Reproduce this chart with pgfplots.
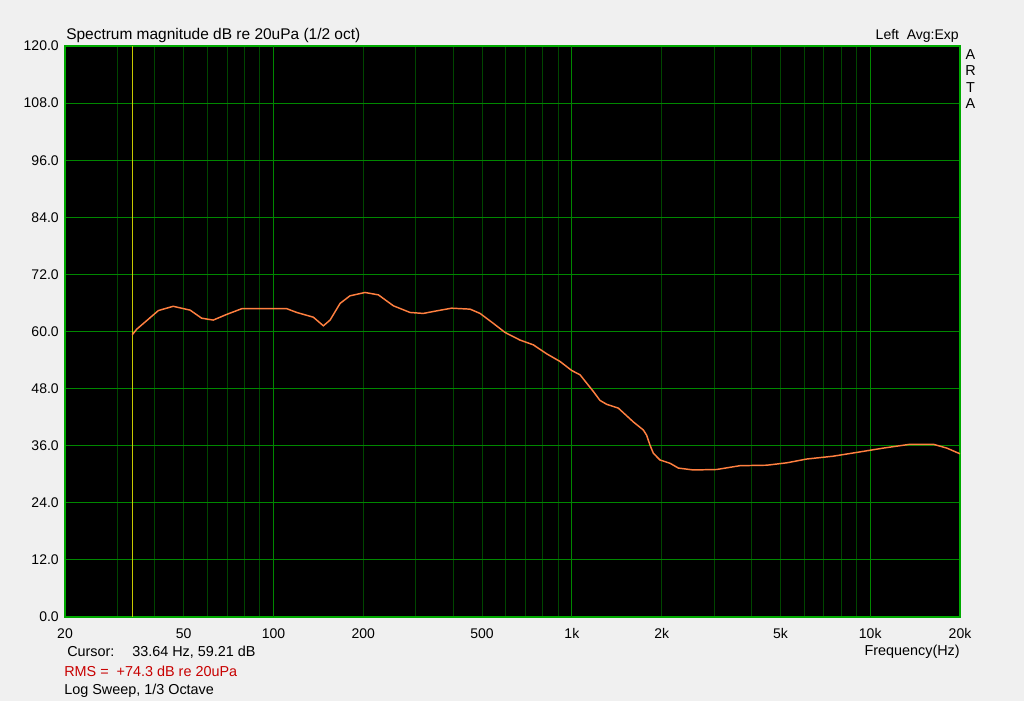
\documentclass[border=0pt]{standalone}
\usepackage{fontspec}
\setmainfont{Liberation Sans}
\usepackage{pgfplots}
\pgfplotsset{compat=1.18}

\definecolor{bgc}{RGB}{240,240,240}
\definecolor{framegreen}{RGB}{0,170,0}
\definecolor{gridgreen}{RGB}{0,135,0}
\definecolor{minorgreen}{RGB}{0,70,0}
\definecolor{curve}{RGB}{255,128,64}
\definecolor{cursorc}{RGB}{200,200,0}
\definecolor{rmsred}{RGB}{200,0,0}

\newcommand{\lbl}{\fontsize{10.5}{12}\selectfont}
\newcommand{\lblb}{\fontsize{10.8}{12}\selectfont}
\newcommand{\ttl}{\fontsize{11.6}{13}\selectfont}

\begin{document}
\begin{tikzpicture}[x=0.75pt,y=0.75pt]
\fill[bgc] (0,0) rectangle (1024,701);
\useasboundingbox (0,0) rectangle (1024,701);
\begin{axis}[
  at={(48.75pt,63pt)}, anchor=south west,
  scale only axis,
  width=671.25pt, height=428.25pt,
  xmode=log,
  xmin=20, xmax=20000, ymin=0, ymax=120,
  axis background/.style={fill=black},
  axis line style={framegreen, line width=1.1pt},
  xtick={20,50,100,200,500,1000,2000,5000,10000,20000},
  xticklabels={20,50,100,200,500,1k,2k,5k,10k,20k},
  minor xtick={30,40,50,60,70,80,90,200,300,400,500,600,700,800,900,2000,3000,4000,5000,6000,7000,8000,9000},
  extra x ticks={100,1000,10000},
  extra x tick labels={},
  extra x tick style={xmajorgrids=true},
  ytick={0,12,...,120},
  major tick length=0pt, minor tick length=0pt,
  xmajorgrids=false, ymajorgrids=true, xminorgrids=true,
  major grid style={gridgreen, line width=0.75pt},
  minor grid style={minorgreen, line width=0.75pt},
  /pgf/number format/assume math mode=true,
  yticklabel style={font=\lbl, anchor=east, inner sep=0pt, xshift=-4.5pt,
    /pgf/number format/fixed, /pgf/number format/fixed zerofill, /pgf/number format/precision=1},
  xticklabel style={font=\lbl, anchor=base, inner sep=0pt, yshift=-15.75pt},
  log ticks with fixed point,
  clip=true,
]
\addplot[cursorc, line width=0.75pt] coordinates {(33.64,0) (33.64,120)};
\addplot[curve, line width=1.1pt] coordinates {
(33.6,59.3) (34.8,60.5) (37.6,62.3) (41.1,64.4) (46.1,65.3) (49.9,64.8)
(52.5,64.5) (57.4,62.8) (62.8,62.4) (69.7,63.6) (78.3,64.8) (92.4,64.8)
(110.7,64.8) (119.6,64.0) (136,63.0) (146.9,61.2) (154.7,62.4) (167.1,65.9)
(180.4,67.5) (202.6,68.2) (224.6,67.7) (252.2,65.4) (286.8,64.0) (317.7,63.8)
(356.6,64.4) (395.3,64.9) (455.7,64.7) (492.2,63.8) (545.6,61.7) (597.1,59.8)
(670,58.2) (742.6,57.2) (823.9,55.3) (912.6,53.7) (998.9,51.8) (1065,50.9)
(1180,47.4) (1243,45.5) (1308,44.7) (1431,43.9) (1607,41.0) (1736,39.3)
(1781,38.2) (1828,36.1) (1876,34.4) (1974,33.0) (2134,32.3) (2275,31.3)
(2553,30.9) (3058,31.0) (3660,31.8) (4498,31.9) (5250,32.4) (6125,33.2)
(7525,33.8) (9245,34.7) (11070,35.5) (13600,36.3) (16280,36.3) (18050,35.5)
(20000,34.3)
};
\end{axis}
\node[font=\ttl, anchor=base west, inner sep=0pt] at (66,661) {Spectrum magnitude dB re 20uPa (1/2 oct)};
\node[font=\lbl, anchor=base east, inner sep=0pt] at (959,661) {Left\ \ Avg:Exp};
\node[font=\lblb, anchor=base, inner sep=0pt] at (970.5,641.5) {A};
\node[font=\lblb, anchor=base, inner sep=0pt] at (970.5,625) {R};
\node[font=\lblb, anchor=base, inner sep=0pt] at (970.5,608.5) {T};
\node[font=\lblb, anchor=base, inner sep=0pt] at (970.5,592) {A};
\node[font=\lblb, anchor=base east, inner sep=0pt] at (960,46) {Frequency(Hz)};
\node[font=\lblb, anchor=base west, inner sep=0pt] at (67,45) {Cursor:};
\node[font=\lblb, anchor=base west, inner sep=0pt] at (132,45) {33.64 Hz, 59.21 dB};
\node[font=\lblb, anchor=base west, inner sep=0pt, text=rmsred] at (64,25) {RMS =\ \ +74.3 dB re 20uPa};
\node[font=\lblb, anchor=base west, inner sep=0pt] at (64,7) {Log Sweep, 1/3 Octave};
\end{tikzpicture}
\end{document}
